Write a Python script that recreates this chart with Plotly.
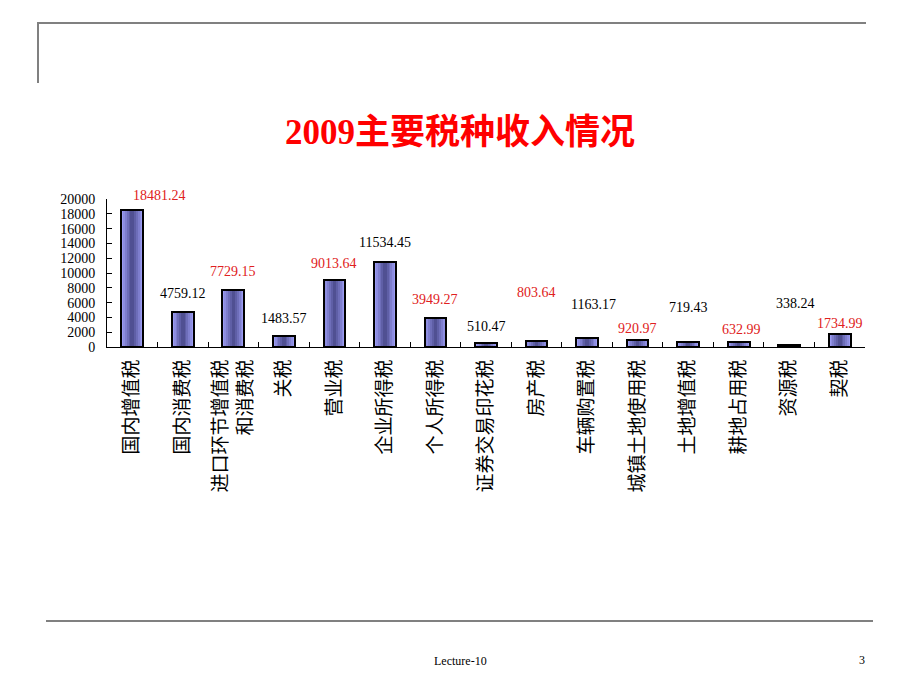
import plotly.graph_objects as go

# 2009 tax revenue by type (亿元)
taxes = ['国内增值税', '国内消费税', '进口环节增值税<br>和消费税', '关税', '营业税',
         '企业所得税', '个人所得税', '证券交易印花税', '房产税', '车辆购置税',
         '城镇土地使用税', '土地增值税', '耕地占用税', '资源税', '契税']
revenue = [18481.24, 4759.12, 7729.15, 1483.57, 9013.64,
           11534.45, 3949.27, 510.47, 803.64, 1163.17,
           920.97, 719.43, 632.99, 338.24, 1734.99]
y_ticks = [0, 2000, 4000, 6000, 8000, 10000, 12000, 14000, 16000, 18000, 20000]

# hand placement of the value labels, as on the slide (pixels)
label_lift = [15, 18, 18, 18, 17, 19, 18, 17, 49, 34, 12, 34, 13, 41, 11]
label_nudge = [27, 0, 0, 0, 0, 0, 0, 0, 0, 6, 0, 0, 3, 6, 0]

# page has an 8px body margin, so work in window pixels and shift
OFF = 8
W, H = 920 - 2 * OFF, 690 - 2 * OFF
L, T = 107 - OFF, 199 - OFF          # plot area 107..865 x 199..347 in the window
pw, ph = 758, 148
R, B = W - L - pw, H - T - ph


def px(x):
    return (x - OFF - L) / pw


def py(y):
    return (T + ph - (y - OFF)) / ph


serif = 'Liberation Serif, Noto Sans CJK SC'
bar_w = 0.43

fig = go.Figure()

# fake the horizontal gradient of the original bars with stacked narrower bars
shades = ['#9c9cf2', '#8d8de0', '#7e7ecd', '#6e6eb9', '#5f5fa6', '#505092']
for i, c in enumerate(shades):
    fig.add_trace(go.Bar(x=taxes, y=revenue, width=bar_w * (1 - i / len(shades)),
                         marker=dict(color=c, line=dict(width=0)),
                         hoverinfo='skip', showlegend=False))
# outline on top
fig.add_trace(go.Bar(x=taxes, y=revenue, width=bar_w,
                     marker=dict(color='rgba(0,0,0,0)', line=dict(color='black', width=2)),
                     showlegend=False))

anns = []
for i, (t, v) in enumerate(zip(taxes, revenue)):
    anns.append(dict(x=t, y=v, xref='x', yref='y', text=f'{v:.2f}', showarrow=False,
                     xanchor='center', yanchor='middle',
                     yshift=label_lift[i], xshift=label_nudge[i],
                     font=dict(family=serif, size=14,
                               color='#e02020' if i % 2 == 0 else 'black')))


def page_text(x, y, text, font):
    return dict(x=px(x), y=py(y), xref='paper', yref='paper', text=text,
                showarrow=False, xanchor='center', yanchor='middle', font=font)


anns.append(page_text(460, 133, '<b>2009主要税种收入情况</b>',
                      dict(family=serif, size=35, color='#ff0000')))
anns.append(page_text(460, 661, 'Lecture-10',
                      dict(family='Liberation Serif', size=12, color='black')))
anns.append(page_text(862, 660, '3',
                      dict(family='Liberation Serif', size=12, color='black')))

grey = dict(color='#808080', width=2)
shapes = [
    dict(type='line', xref='paper', yref='paper', x0=px(37), x1=px(866), y0=py(23), y1=py(23), line=grey),
    dict(type='line', xref='paper', yref='paper', x0=px(38), x1=px(38), y0=py(23), y1=py(83), line=grey),
    dict(type='line', xref='paper', yref='paper', x0=px(46), x1=px(873), y0=py(621), y1=py(621), line=grey),
]

fig.update_layout(
    width=W, height=H, margin=dict(l=L, r=R, t=T, b=B),
    paper_bgcolor='white', plot_bgcolor='white',
    barmode='overlay', bargap=0,
    annotations=anns, shapes=shapes,
    xaxis=dict(showline=True, linecolor='black', linewidth=1, ticks='inside',
               tickson='boundaries', ticklen=5, tickcolor='black', tickangle=-90,
               tickfont=dict(family='Noto Sans CJK SC', size=19, color='black'),
               ticklabelstandoff=4, showgrid=False),
    yaxis=dict(range=[0, 20000], tickvals=y_ticks, tickformat='d', showline=True,
               linecolor='black', linewidth=1, ticks='inside', ticklen=5, tickcolor='black',
               tickfont=dict(family='Liberation Serif', size=14, color='black'),
               ticklabelstandoff=8, showgrid=False, zeroline=False),
)

fig.write_html('out.html')
